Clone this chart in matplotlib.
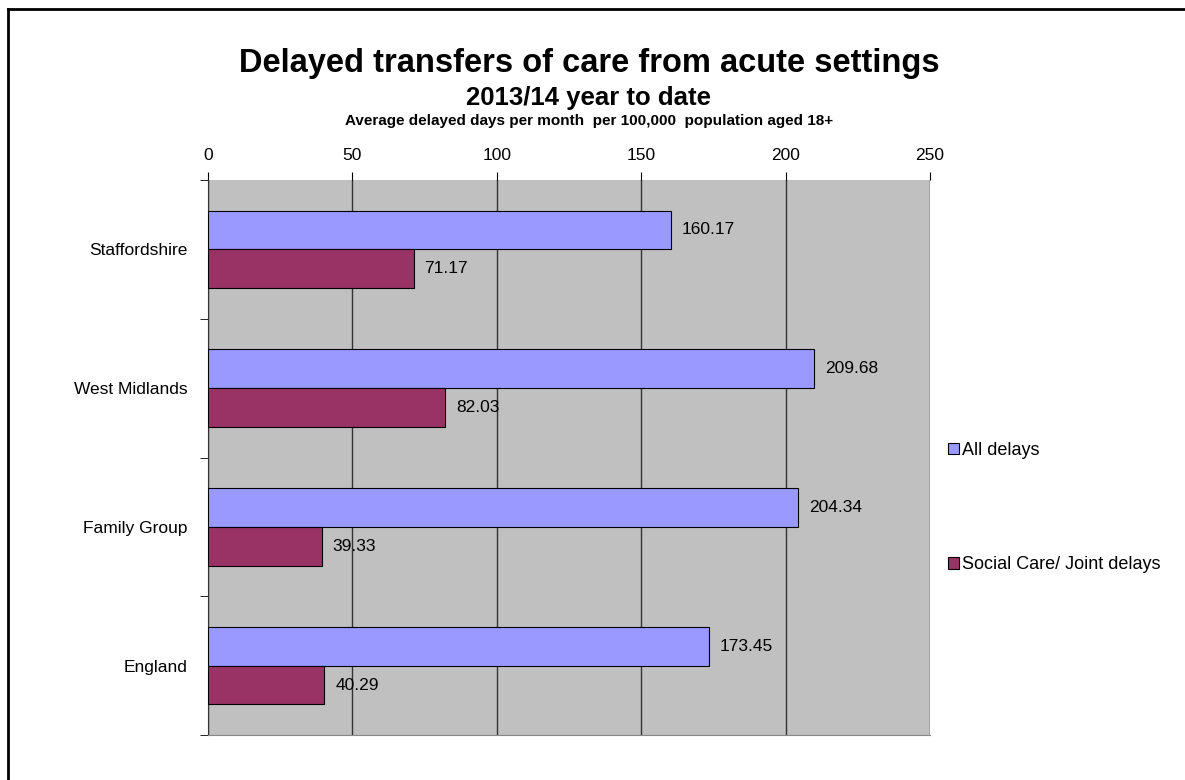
import matplotlib.pyplot as plt
import numpy as np
from matplotlib.lines import Line2D

plt.rcParams['font.family'] = ['Liberation Sans', 'DejaVu Sans']

regions = ['Staffordshire', 'West Midlands', 'Family Group', 'England']
all_delays = [160.17, 209.68, 204.34, 173.45]
social_care = [71.17, 82.03, 39.33, 40.29]
series_names = ['All delays', 'Social Care/ Joint delays']

y = np.arange(len(regions))
h = 0.28

fig = plt.figure(figsize=(11.85, 7.8), dpi=100)
ax = fig.add_axes([0.1755, 0.0577, 0.6093, 0.7115])
ax.set_facecolor('#C0C0C0')

b1 = ax.barh(y - h/2, all_delays, h, color='#9999FF', edgecolor='black', linewidth=0.8,
             label=series_names[0], zorder=3)
b2 = ax.barh(y + h/2, social_care, h, color='#993366', edgecolor='black', linewidth=0.8,
             label=series_names[1], zorder=3)

ax.bar_label(b1, labels=[f'{v:.2f}' for v in all_delays], padding=8, fontsize=12.5, zorder=4)
ax.bar_label(b2, labels=[f'{v:.2f}' for v in social_care], padding=8, fontsize=12.5, zorder=4)

ax.set_xlim(0, 250)
ax.set_ylim(len(regions) - 0.5, -0.5)
ax.set_xticks(np.arange(0, 251, 50))
ax.xaxis.tick_top()
ax.tick_params(axis='x', labelsize=12.5, length=6, direction='out', pad=6)
ax.grid(axis='x', color='#333333', linewidth=1, zorder=1)

ax.set_yticks(y, regions)
ax.set_yticks(np.arange(-0.5, len(regions)), minor=True)
ax.tick_params(axis='y', which='major', length=0, labelsize=12.5, pad=15)
ax.tick_params(axis='y', which='minor', length=6)

for s in ['top', 'right']:
    ax.spines[s].set_visible(False)
ax.spines['left'].set_color('#333333')
ax.spines['bottom'].set_color('#888888')

fig.text(0.497, 0.918, 'Delayed transfers of care from acute settings', ha='center',
         va='center', fontsize=23.5, fontweight='bold')
fig.text(0.497, 0.874, '2013/14 year to date', ha='center', va='center',
         fontsize=18.5, fontweight='bold')
fig.text(0.497, 0.845, 'Average delayed days per month  per 100,000  population aged 18+',
         ha='center', va='center', fontsize=11, fontweight='bold')

ax.legend(loc='center left', bbox_to_anchor=(1.002, 0.41), frameon=False, fontsize=13,
          handlelength=0.6, handleheight=0.6, handletextpad=0.2, labelspacing=5.4)

# outer frame: only top and left edges fall inside the image
top = 1 - 8.5/780
left = 7.5/1185
fig.lines.append(Line2D([left, 1], [top, top], transform=fig.transFigure, color='black', lw=2))
fig.lines.append(Line2D([left, left], [0, top], transform=fig.transFigure, color='black', lw=2))

fig.savefig('out.png', dpi=100)
